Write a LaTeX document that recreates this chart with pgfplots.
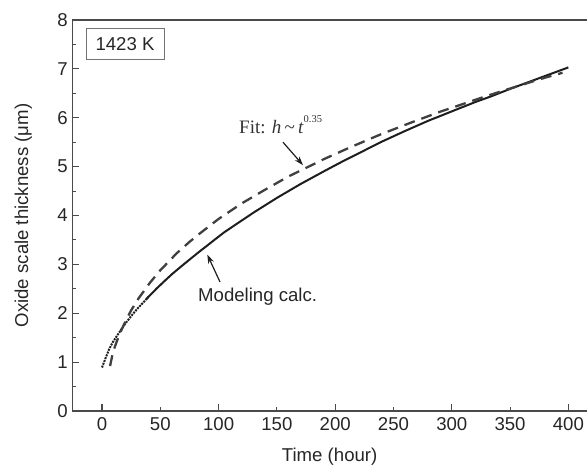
\documentclass[border=0pt]{standalone}
\usepackage{fontspec}
\setmainfont{Liberation Sans}
\newfontfamily\serif{Liberation Serif}
\usepackage{pgfplots}
\pgfplotsset{compat=1.18}
\usetikzlibrary{arrows.meta}
\definecolor{axgray}{HTML}{4A4A4A}
\definecolor{curve}{HTML}{1E1E1E}
\begin{document}
\begin{tikzpicture}[font=\fontsize{18.6}{22}\selectfont]
\begin{axis}[
  at={(72.3pt,62pt)}, anchor=south west,
  scale only axis, width=514.7pt, height=391pt,
  xmin=-25.5, xmax=416, ymin=0, ymax=8,
  axis x line=box, axis y line=left,
  x axis line style={-}, y axis line style={-},
  axis line style={axgray, line width=1.2pt},
  every tick/.style={axgray, line width=1.1pt},
  tick align=inside, tick pos=left,
  major tick length=7pt, minor tick length=4pt,
  xtick={0,100,...,400},
  extra x ticks={50,150,250,350},
  extra x tick style={major tick length=4pt},
  ytick={0,1,...,8}, minor y tick num=1,
  /pgf/number format/assume math mode=true,
  ticklabel style={text=black!85},
  xticklabel style={yshift=-3pt},
  yticklabel style={xshift=-1pt},
  xlabel={Time (hour)},
  xlabel style={at={(axis description cs:0.5,0)}, anchor=base, yshift=-51pt, text=black!85},
  ylabel={Oxide scale thickness (μm)},
  ylabel style={at={(axis description cs:-0.0952,0.5)}, anchor=center, text=black!85},
  clip=false,
]
% Modeling calc. (early sparse dotted part)
\addplot[curve, line width=2pt, densely dotted] coordinates {
(0,0.89) (3,1.08) (6,1.26) (9,1.40) (12.6,1.53) (16,1.65) (20,1.79)
(24,1.91) (27,2.00) (31,2.11) (35,2.21) (40,2.34)
};
% Modeling calc. (solid)
\addplot[curve, line width=2pt] coordinates {
(38,2.29) (40,2.34) (47,2.51) (55,2.69) (60,2.80) (68,2.96) (75.7,3.11)
(84,3.27) (90,3.38) (95.8,3.49) (105,3.66) (115,3.82) (130,4.06)
(150,4.36) (170,4.64) (190,4.90) (205,5.09) (220,5.27) (239,5.50)
(260,5.73) (280,5.94) (300,6.13) (320,6.32) (334,6.44) (350,6.59)
(375,6.81) (400,7.03)
};
% Fit: h ~ t^0.35 (dashed)
\addplot[curve!85, line width=2.3pt, dash pattern=on 11pt off 7pt] coordinates {
(6.9,0.92) (9,1.16) (11.2,1.33) (15,1.57) (20,1.83) (25,2.06) (31.2,2.30)
(41.3,2.63) (50,2.88) (64.2,3.23) (75,3.46) (84.3,3.64) (100,3.93)
(120,4.25) (140,4.53) (160,4.80) (173,4.95) (190,5.15) (210.5,5.37)
(239,5.66) (265,5.90) (290.8,6.13) (310.8,6.29) (328,6.43) (345,6.56)
(365,6.71) (380,6.82) (395,6.92)
};
\node[draw=black!55, line width=0.9pt, minimum width=78pt, minimum height=31pt,
  inner sep=0pt, text=black!85] at (axis cs:19.7,7.5) {1423 K};
\node[anchor=base west, inner sep=0pt, text=black!80] at (axis cs:117.5,5.67)
  {\serif\fontsize{19}{22}\selectfont Fit: \textit{h}\,\char`\~\,\textit{t}\raisebox{0.62em}{\fontsize{10.5}{12}\selectfont 0.35}};
\draw[-{Stealth[length=9pt,width=6pt]}, line width=1.2pt, curve] (axis cs:155.2,5.50) -- (axis cs:172.4,5.03);
\node[anchor=base west, inner sep=0pt, text=black!85] at (axis cs:82.3,2.25) {Modeling calc.};
\draw[-{Stealth[length=9pt,width=6pt]}, line width=1.2pt, curve] (axis cs:101.2,2.64) -- (axis cs:90.3,3.20);
\end{axis}
\pgfresetboundingbox
\path (0,0) rectangle (587pt,473pt);
\end{tikzpicture}
\end{document}
